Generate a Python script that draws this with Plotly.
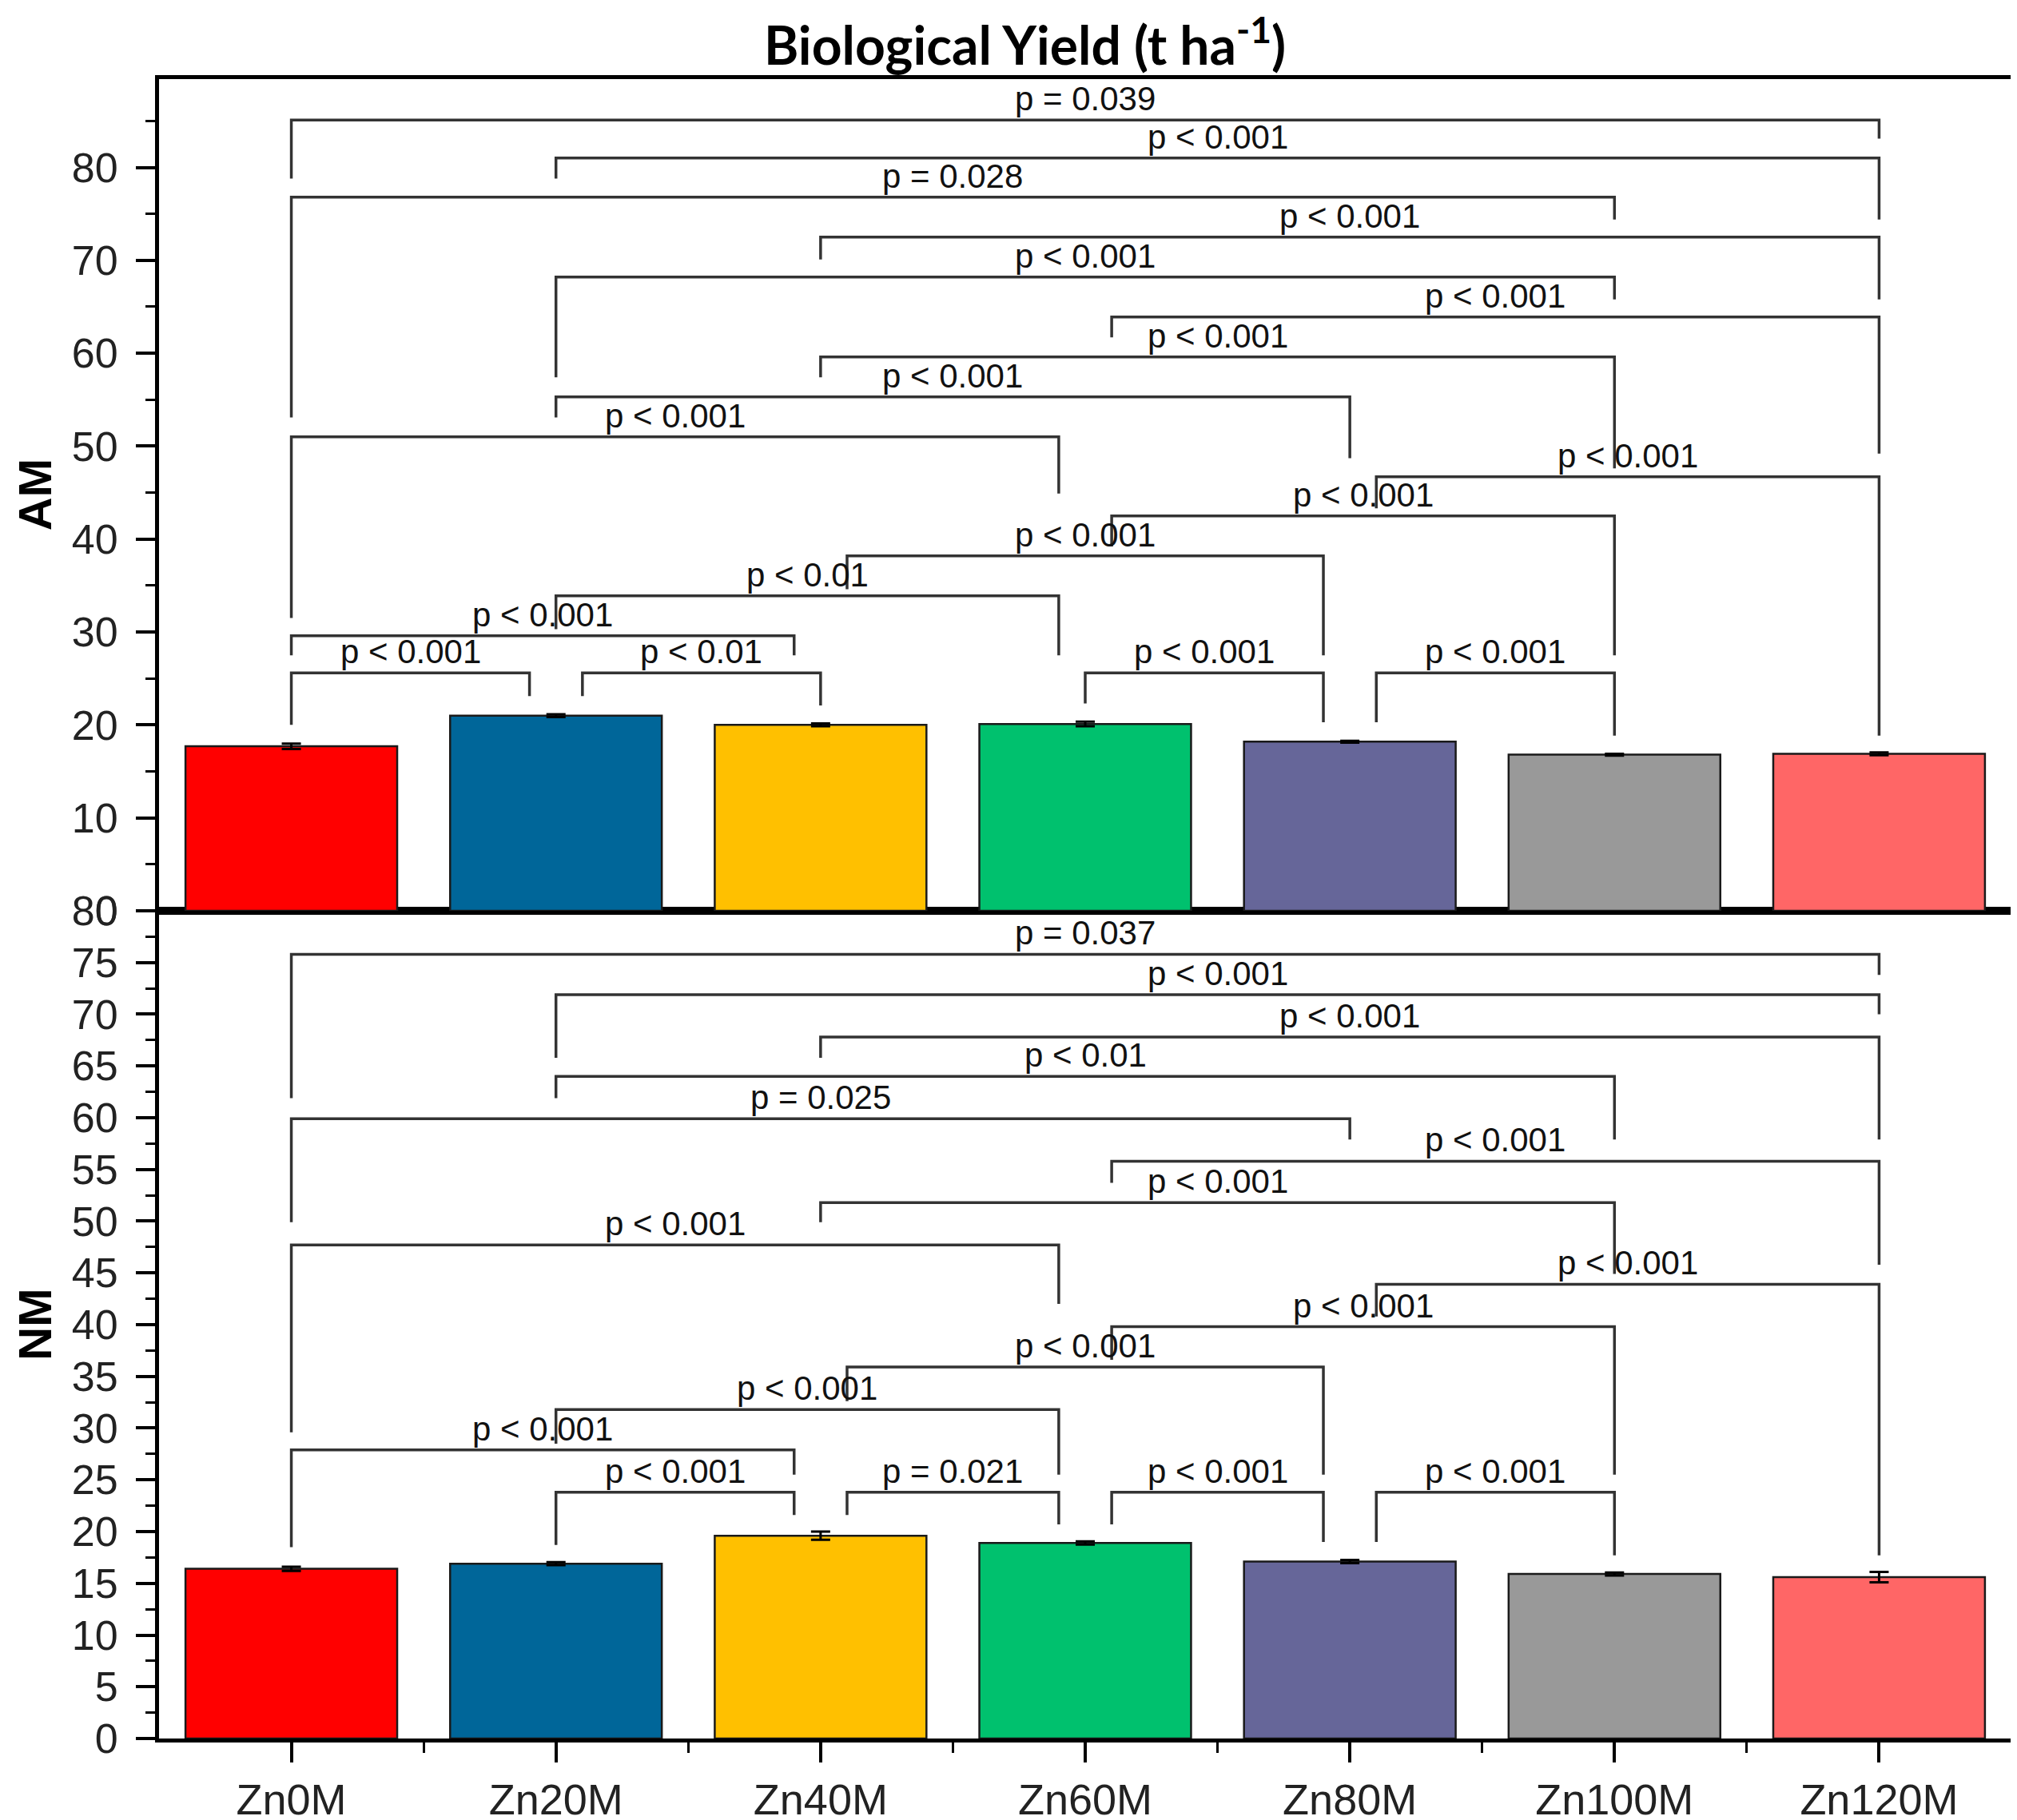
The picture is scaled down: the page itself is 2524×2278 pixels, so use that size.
import plotly.graph_objects as go

# ---------------- data ----------------
categories = ["Zn0M", "Zn20M", "Zn40M", "Zn60M", "Zn80M", "Zn100M", "Zn120M"]
am_mean = [17.7, 21.0, 20.0, 20.1, 18.2, 16.8, 16.9]
am_err = [0.3, 0.15, 0.15, 0.25, 0.1, 0.1, 0.15]
nm_mean = [16.4, 16.9, 19.6, 18.9, 17.1, 15.9, 15.6]
nm_err = [0.2, 0.15, 0.4, 0.15, 0.15, 0.15, 0.5]
bar_colors = ["#FF0000", "#006699", "#FFC000", "#00C16E", "#666699", "#999999", "#FF6666"]

# significance brackets:
# (left group, left side shift, right group, right side shift, bar level, left leg end, right leg end, label)
am_brackets = [
    ("Zn0M", 0, "Zn120M", 0, 85.1, 78.8, 83.1, "p = 0.039"),
    ("Zn20M", 0, "Zn120M", 0, 81.0, 78.8, 74.4, "p < 0.001"),
    ("Zn0M", 0, "Zn100M", 0, 76.8, 53.1, 74.4, "p = 0.028"),
    ("Zn40M", 0, "Zn120M", 0, 72.5, 70.1, 65.8, "p < 0.001"),
    ("Zn20M", 0, "Zn100M", 0, 68.2, 57.4, 65.8, "p < 0.001"),
    ("Zn60M", 1, "Zn120M", 0, 63.9, 61.7, 49.2, "p < 0.001"),
    ("Zn40M", 0, "Zn100M", 0, 59.6, 57.4, 47.6, "p < 0.001"),
    ("Zn20M", 0, "Zn80M", 0, 55.3, 53.1, 48.7, "p < 0.001"),
    ("Zn0M", 0, "Zn60M", -1, 51.0, 31.5, 44.9, "p < 0.001"),
    ("Zn80M", 1, "Zn120M", 0, 46.7, 43.3, 18.85, "p < 0.001"),
    ("Zn60M", 1, "Zn100M", 0, 42.5, 39.2, 27.5, "p < 0.001"),
    ("Zn40M", 1, "Zn80M", -1, 38.2, 34.6, 27.5, "p < 0.001"),
    ("Zn20M", 0, "Zn60M", -1, 33.9, 30.3, 27.5, "p < 0.01"),
    ("Zn0M", 0, "Zn40M", -1, 29.6, 27.5, 27.5, "p < 0.001"),
    ("Zn0M", 0, "Zn20M", -1, 25.6, 20.0, 23.1, "p < 0.001"),
    ("Zn20M", 1, "Zn40M", 0, 25.6, 23.1, 22.1, "p < 0.01"),
    ("Zn60M", 0, "Zn80M", -1, 25.6, 22.3, 20.3, "p < 0.001"),
    ("Zn80M", 1, "Zn100M", 0, 25.6, 20.3, 18.85, "p < 0.001"),
]
nm_brackets = [
    ("Zn0M", 0, "Zn120M", 0, 75.8, 61.9, 73.8, "p = 0.037"),
    ("Zn20M", 0, "Zn120M", 0, 71.9, 65.8, 70.0, "p < 0.001"),
    ("Zn40M", 0, "Zn120M", 0, 67.8, 65.8, 57.9, "p < 0.001"),
    ("Zn20M", 0, "Zn100M", 0, 64.0, 61.9, 57.9, "p < 0.01"),
    ("Zn0M", 0, "Zn80M", 0, 59.9, 49.9, 57.9, "p = 0.025"),
    ("Zn60M", 1, "Zn120M", 0, 55.8, 53.7, 45.8, "p < 0.001"),
    ("Zn40M", 0, "Zn100M", 0, 51.8, 49.9, 44.9, "p < 0.001"),
    ("Zn0M", 0, "Zn60M", -1, 47.7, 29.6, 42.0, "p < 0.001"),
    ("Zn80M", 1, "Zn120M", 0, 43.9, 40.8, 17.7, "p < 0.001"),
    ("Zn60M", 1, "Zn100M", 0, 39.8, 36.6, 25.5, "p < 0.001"),
    ("Zn40M", 1, "Zn80M", -1, 35.9, 32.6, 25.5, "p < 0.001"),
    ("Zn20M", 0, "Zn60M", -1, 31.8, 28.5, 25.5, "p < 0.001"),
    ("Zn0M", 0, "Zn40M", -1, 27.9, 18.5, 25.5, "p < 0.001"),
    ("Zn20M", 0, "Zn40M", -1, 23.8, 18.7, 21.6, "p < 0.001"),
    ("Zn40M", 1, "Zn60M", -1, 23.8, 21.6, 20.7, "p = 0.021"),
    ("Zn60M", 1, "Zn80M", -1, 23.8, 20.7, 19.0, "p < 0.001"),
    ("Zn80M", 1, "Zn100M", 0, 23.8, 19.0, 17.7, "p < 0.001"),
]

# ---------------- styling ----------------
LEG_SHIFT = 0.1
TICK_FONT = "Liberation Sans, Arial, sans-serif"
idx = list(range(len(categories)))
pos = {c: i for i, c in enumerate(categories)}

fig = go.Figure()


def add_panel(means, errs, brackets, xa, ya):
    fig.add_trace(go.Bar(
        x=idx, y=means, width=0.8,
        marker=dict(color=bar_colors, line=dict(color="#1a1a1a", width=2.5)),
        error_y=dict(type="data", array=errs, color="black", thickness=3, width=12),
        xaxis=xa, yaxis=ya, hoverinfo="skip",
    ))
    bx, by = [], []
    for lc, ls, rc, rs, lvl, yl, yr, txt in brackets:
        xl = pos[lc] + ls * LEG_SHIFT
        xr = pos[rc] + rs * LEG_SHIFT
        bx += [xl, xl, xr, xr, None]
        by += [yl, lvl, lvl, yr, None]
        fig.add_annotation(
            x=(xl + xr) / 2, y=lvl, xref=xa, yref=ya, text=txt, showarrow=False,
            xanchor="center", yanchor="bottom", yshift=1,
            font=dict(family=TICK_FONT, size=42, color="#111111"),
        )
    fig.add_trace(go.Scatter(
        x=bx, y=by, mode="lines", line=dict(color="#333333", width=3.5),
        xaxis=xa, yaxis=ya, hoverinfo="skip",
    ))


add_panel(am_mean, am_err, am_brackets, "x2", "y2")
add_panel(nm_mean, nm_err, nm_brackets, "x", "y")

split = 0.4988
common_axis = dict(showline=True, linewidth=5, linecolor="black", showgrid=False,
                   zeroline=False, automargin=False)

fig.update_layout(
    width=2524, height=2278,
    margin=dict(l=191, r=15, t=91, b=110, autoexpand=False),
    paper_bgcolor="white", plot_bgcolor="white",
    showlegend=False, bargap=0.2,
    title=dict(
        text="Biological Yield (t ha<sup>-1</sup>)",
        x=0.505, xanchor="center", y=0.978, yanchor="middle",
        font=dict(family="Lato, Open Sans, sans-serif", size=66, color="black", weight="bold"),
    ),
    xaxis=dict(
        **common_axis, domain=[0, 1], anchor="y", range=[-0.5, 6.5],
        tickmode="array", tickvals=idx, ticktext=categories,
        ticks="outside", ticklen=25, tickwidth=4, tickcolor="black",
        minor=dict(tickvals=[i + 0.5 for i in idx[:-1]], ticks="outside",
                   ticklen=13, tickwidth=3, tickcolor="black"),
        tickfont=dict(family=TICK_FONT, size=54, color="#222222"),
        mirror=True,
    ),
    yaxis=dict(
        **common_axis, domain=[0, split], anchor="x", range=[0, 80],
        tickmode="array", tickvals=list(range(0, 81, 5)),
        ticks="outside", ticklen=24, tickwidth=4, tickcolor="black",
        ticklabelstandoff=12,
        minor=dict(tick0=0, dtick=2.5, ticks="outside", ticklen=12, tickwidth=3,
                   tickcolor="black"),
        tickfont=dict(family=TICK_FONT, size=52, color="#222222"),
        mirror=True,
    ),
    xaxis2=dict(
        **common_axis, domain=[0, 1], anchor="y2", matches="x", range=[-0.5, 6.5],
        showticklabels=False, ticks="", mirror=True,
    ),
    yaxis2=dict(
        **common_axis, domain=[split, 1], anchor="x2", range=[0, 89.5],
        tickmode="array", tickvals=list(range(0, 81, 10)),
        ticks="outside", ticklen=24, tickwidth=4, tickcolor="black",
        ticklabelstandoff=12,
        minor=dict(tick0=0, dtick=5, ticks="outside", ticklen=12, tickwidth=3,
                   tickcolor="black"),
        tickfont=dict(family=TICK_FONT, size=52, color="#222222"),
        mirror=True,
    ),
)

fig.add_annotation(text="AM", xref="paper", yref="paper", x=-0.067, y=(split + 1) / 2,
                   textangle=-90, showarrow=False, xanchor="center", yanchor="middle",
                   font=dict(family=TICK_FONT, size=58, color="black", weight="bold"))
fig.add_annotation(text="NM", xref="paper", yref="paper", x=-0.067, y=split / 2,
                   textangle=-90, showarrow=False, xanchor="center", yanchor="middle",
                   font=dict(family=TICK_FONT, size=58, color="black", weight="bold"))

fig.write_html("out.html")
